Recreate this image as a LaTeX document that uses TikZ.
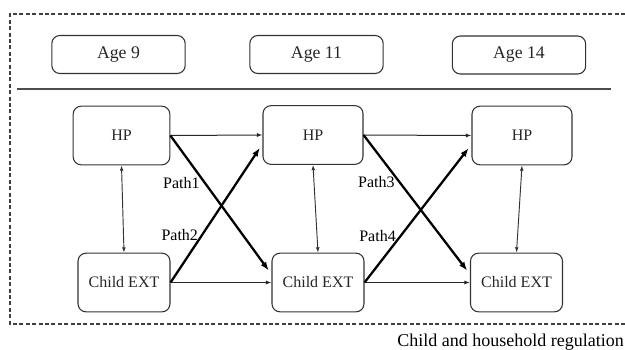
\documentclass[tikz,border=0pt]{standalone}
\usepackage{fontspec}
\setmainfont{Liberation Serif}
\usetikzlibrary{arrows.meta,positioning}

\begin{document}
\begin{tikzpicture}[
                x=0.75pt, y=-0.75pt,
                font=\fontsize{12}{14}\selectfont,
                box/.style={rectangle, draw=black!80, line width=0.8pt, rounded corners=6pt, minimum width=75pt, minimum height=44pt, align=center, text=black!85},
                extbox/.style={box, minimum width=69pt},
                agebox/.style={box, minimum width=100pt, minimum height=28.5pt, font=\fontsize{13.3}{15}\selectfont},
                stab/.style={-{Latex[length=1.5mm,width=1.1mm]}, line width=0.75pt, black!85},
                cross/.style={-{Latex[length=2.3mm,width=1.7mm]}, line width=1.7pt, shorten >=3.5pt},
                corr/.style={{Latex[length=1.4mm,width=1mm]}-{Latex[length=1.4mm,width=1mm]}, line width=0.7pt, black!80},
            ]
            \useasboundingbox (0,0) rectangle (625,350);

            % frame and header rule
            \draw[black!75, line width=0.8pt, dash pattern=on 3pt off 1.8pt] (625,14) -- (10,14) -- (10,324) -- (625,324);
            \draw[black!70, line width=1pt] (17,89) -- (611,89);

            \node[agebox] (age9) at (118.5,54.5) {Age 9};
            \node[agebox] (age11) at (316.5,54.5) {Age 11};
            \node[agebox] (age14) at (519,55) {Age 14};

            \node[box, minimum width=72.5pt] (hp9) at (121.5,135.5) {HP};
            \node[box] (hp11) at (313,135) {HP};
            \node[box] (hp14) at (522,135.5) {HP};
            \node[extbox] (ext9) at (124,282.5) {Child EXT};
            \node[extbox] (ext11) at (318,282.5) {Child EXT};
            \node[extbox] (ext14) at (516.5,282.5) {Child EXT};

            \node[anchor=east, inner sep=0pt, font=\fontsize{13.5}{15}\selectfont] (regtext) at (624,342) {Child and household regulation};

            \draw[stab] (hp9.east) -- (hp11.west);
            \draw[stab] (hp11.east) -- (hp14.west);
            \draw[stab] (ext9.east) -- (ext11.west);
            \draw[stab] (ext11.east) -- (ext14.west);

            \draw[corr] (hp9.south) -- (ext9.north);
            \draw[corr] (hp11.south) -- (ext11.north);
            \draw[corr] (hp14.south) -- (ext14.north);

            \draw[cross] (hp9.east) -- node[pos=0.34, left, inner sep=3pt]{Path1} (ext11.170);
            \draw[cross] (ext9.east) -- node[pos=0.34, left, inner sep=2pt]{Path2} (hp11.190);
            \draw[cross] (hp11.east) -- node[pos=0.34, left, inner sep=3pt]{Path3} (ext14.170);
            \draw[cross] (ext11.east) -- node[pos=0.34, left, inner sep=3pt]{Path4} (hp14.190);
        \end{tikzpicture}
\end{document}
